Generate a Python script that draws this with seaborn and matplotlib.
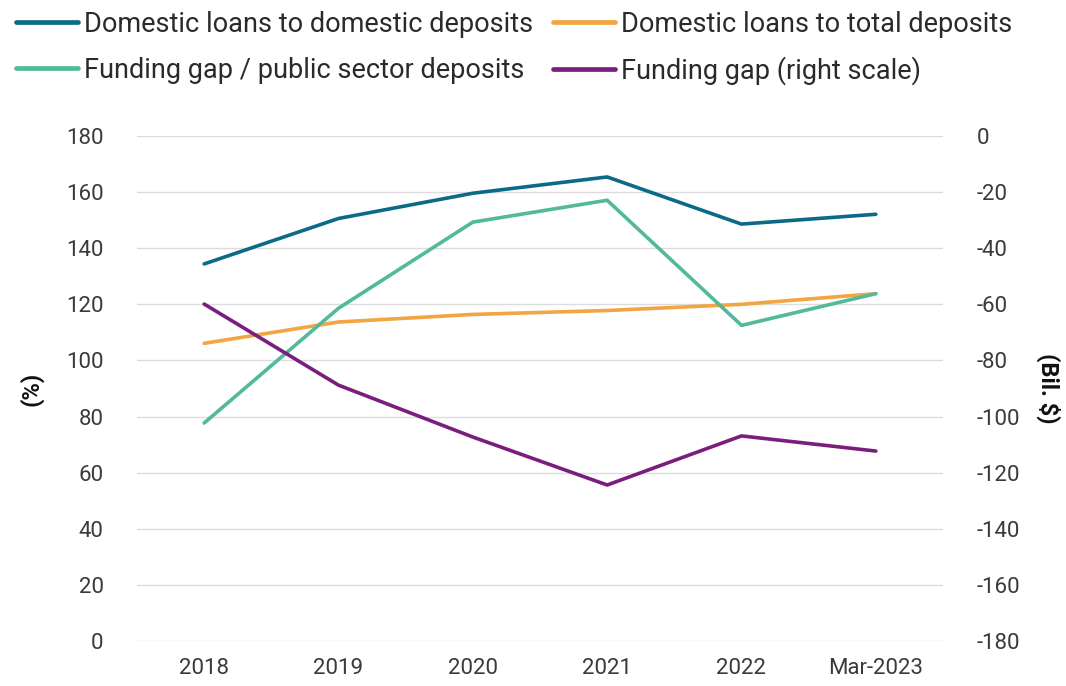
import matplotlib
matplotlib.use("Agg")
import matplotlib.pyplot as plt
import seaborn as sns
import pandas as pd

periods = ["2018", "2019", "2020", "2021", "2022", "Mar-2023"]
loans_to_domestic_deposits = [134.4, 150.6, 159.6, 165.4, 148.6, 152.1]
loans_to_total_deposits = [106.1, 113.7, 116.4, 117.8, 120.0, 123.8]
gap_to_public_deposits = [77.7, 118.6, 149.3, 157.1, 112.5, 123.8]
funding_gap_bn = [-59.9, -88.8, -107.3, -124.4, -106.9, -112.3]

left_ticks = list(range(0, 181, 20))
right_ticks = list(range(-180, 1, 20))

colors = {
    "Domestic loans to domestic deposits": "#0B6A87",
    "Domestic loans to total deposits": "#F2A541",
    "Funding gap / public sector deposits": "#52B99A",
    "Funding gap (right scale)": "#7A1E7E",
}

sns.set_theme(style="white")
plt.rcParams["font.family"] = ["Roboto", "DejaVu Sans"]
plt.rcParams["axes.unicode_minus"] = False

left = pd.DataFrame({
    "period": periods * 3,
    "value": loans_to_domestic_deposits + loans_to_total_deposits + gap_to_public_deposits,
    "series": (["Domestic loans to domestic deposits"] * 6
               + ["Domestic loans to total deposits"] * 6
               + ["Funding gap / public sector deposits"] * 6),
})
left["x"] = left["period"].map({p: i for i, p in enumerate(periods)})
right = pd.DataFrame({"x": range(len(periods)), "value": funding_gap_bn})

fig = plt.figure(figsize=(10.66, 6.86), dpi=100)
ax = fig.add_axes([137 / 1066, 45 / 686, 806 / 1066, 505 / 686])
ax2 = ax.twinx()

sns.lineplot(data=left, x="x", y="value", hue="series", palette=colors,
             linewidth=2.6, ax=ax, legend=False, zorder=3)
sns.lineplot(data=right, x="x", y="value", color=colors["Funding gap (right scale)"],
             linewidth=2.6, ax=ax2, legend=False)

ax.set_xlim(-0.5, len(periods) - 0.5)
ax.set_ylim(0, 180)
ax2.set_ylim(-180, 0)
ax.set_yticks(left_ticks)
ax2.set_yticks(right_ticks)
ax.set_xticks(range(len(periods)))
ax.set_xticklabels(periods)

ax.grid(axis="y", color="#DCDCDC", linewidth=1.0)
ax.set_axisbelow(True)
for a in (ax, ax2):
    for s in a.spines.values():
        s.set_visible(False)
    a.tick_params(length=0, labelsize=16, labelcolor="#3A3A3A")
ax.tick_params(axis="y", pad=24)
ax.tick_params(axis="x", pad=12)
ax2.tick_params(axis="y", pad=24)

ax.set_xlabel("")
ax.set_ylabel("(%)", fontsize=17, fontweight="bold", color="#111111", labelpad=16)
ax2.set_ylabel("(Bil. $)", fontsize=17, fontweight="bold", color="#111111",
               rotation=270, labelpad=29)

handles = [plt.Line2D([], [], color=c, linewidth=3.4) for c in colors.values()]
labels = list(colors.keys())
order = [0, 2, 1, 3]
fig.legend([handles[i] for i in order], [labels[i] for i in order],
           loc="upper left", bbox_to_anchor=(-0.008, 1.02), ncol=2, frameon=False,
           fontsize=19.5, handlelength=2.3, handletextpad=0.2,
           columnspacing=0.75, labelspacing=0.7, labelcolor="#2A2A2A")

fig.savefig("out.png", dpi=100)
